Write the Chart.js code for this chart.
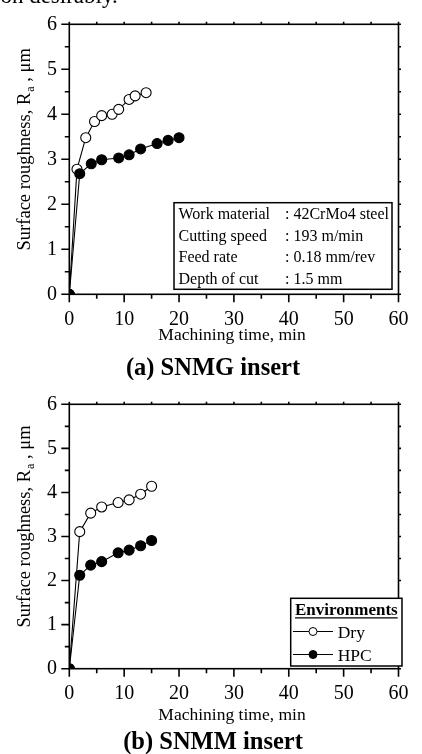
<!DOCTYPE html>
<html>
<head>
<meta charset="utf-8">
<script src="https://cdn.jsdelivr.net/npm/chart.js@4.4.1/dist/chart.umd.min.js"></script>
<style>
  body { margin: 0; background: #fff; }
  #page { position: relative; width: 422px; height: 754px; overflow: hidden; }
  #c1 { position: absolute; left: 0; top: 0; }
  #c2 { position: absolute; left: 0; top: 380px; }
  #snippet { position: absolute; left: -6px; top: -15px; font: 23px/22px "Liberation Serif", serif; white-space: nowrap; color: #000; }
</style>
</head>
<body>
<div id="page">
  <canvas id="c1" width="422" height="380"></canvas>
  <canvas id="c2" width="422" height="374"></canvas>
  <div id="snippet">ion desirably.</div>
</div>
<script>
// axis ticks
const xTicks = [0, 10, 20, 30, 40, 50, 60];
const yTicks = [0, 1, 2, 3, 4, 5, 6];

// (a) SNMG insert
const dryTimeA = [0, 1.4, 3.0, 4.6, 5.9, 7.8, 9.0, 10.9, 12.0, 14.0];
const dryRaA   = [0, 2.78, 3.48, 3.84, 3.97, 4.00, 4.11, 4.33, 4.41, 4.48];
const hpcTimeA = [0, 1.9, 4.0, 5.9, 9.0, 10.9, 13.0, 16.0, 18.0, 20.0];
const hpcRaA   = [0, 2.68, 2.90, 2.99, 3.03, 3.10, 3.23, 3.35, 3.42, 3.48];

// (b) SNMM insert
const dryTimeB = [0, 1.9, 3.9, 5.9, 8.9, 10.9, 13.0, 15.0];
const dryRaB   = [0, 3.11, 3.53, 3.67, 3.77, 3.83, 3.96, 4.14];
const hpcTimeB = [0, 1.9, 3.9, 5.9, 8.9, 10.9, 13.0, 15.0];
const hpcRaB   = [0, 2.12, 2.35, 2.43, 2.63, 2.69, 2.79, 2.91];

const infoLabels = ['Work material', 'Cutting speed', 'Feed rate', 'Depth of cut'];
const infoValues = [': 42CrMo4 steel', ': 193 m/min', ': 0.18 mm/rev', ': 1.5 mm'];

const serif = '"Liberation Serif", "Times New Roman", serif';

function series(label, xs, ys, fill, order) {
  return {
    label: label,
    data: xs.map((t, i) => ({ x: t, y: ys[i] })),
    order: order,
    showLine: true,
    borderColor: '#000',
    borderWidth: 1.1,
    pointRadius: 5,
    pointBorderWidth: 1.1,
    pointBorderColor: '#000',
    pointBackgroundColor: fill,
    tension: 0
  };
}

function drawYTitle(ctx, cx, cy) {
  ctx.save();
  ctx.translate(cx, cy);
  ctx.rotate(-Math.PI / 2);
  const main = 'Surface roughness, R', sub = 'a', tail = ' , \u03bcm';
  ctx.font = '18.5px ' + serif;
  const w1 = ctx.measureText(main).width, w3 = ctx.measureText(tail).width;
  ctx.font = '12px ' + serif;
  const w2 = ctx.measureText(sub).width + 1;
  let x = -(w1 + w2 + w3) / 2;
  ctx.textAlign = 'left';
  ctx.textBaseline = 'alphabetic';
  ctx.font = '18.5px ' + serif; ctx.fillText(main, x, 0); x += w1;
  ctx.font = '12px ' + serif; ctx.fillText(sub, x + 1, 4); x += w2;
  ctx.font = '18.5px ' + serif; ctx.fillText(tail, x, 0);
  ctx.restore();
}

const decor = {
  id: 'decor',
  afterDatasetsDraw(chart, args, o) {
    const ctx = chart.ctx, a = chart.chartArea;
    const xs = chart.scales.x, ys = chart.scales.y;
    ctx.save();
    ctx.strokeStyle = '#000';
    ctx.fillStyle = '#000';

    // frame
    ctx.lineWidth = 1.6;
    ctx.strokeRect(a.left, a.top, a.right - a.left, a.bottom - a.top);

    // major + minor ticks, outward
    ctx.beginPath();
    xTicks.forEach((v, i) => {
      const vals = [[v, true]];
      if (i < xTicks.length - 1) vals.push([(v + xTicks[i + 1]) / 2, false]);
      vals.forEach(([val, major]) => {
        const px = xs.getPixelForValue(val);
        ctx.moveTo(px, a.bottom); ctx.lineTo(px, a.bottom + (major ? 8 : 4.5));
        ctx.moveTo(px, a.top); ctx.lineTo(px, a.top - 2.5);
      });
    });
    yTicks.forEach((v, i) => {
      const vals = [[v, true]];
      if (i < yTicks.length - 1) vals.push([(v + yTicks[i + 1]) / 2, false]);
      vals.forEach(([val, major]) => {
        const py = ys.getPixelForValue(val);
        ctx.moveTo(a.left, py); ctx.lineTo(a.left - (major ? 8 : 4.5), py);
        ctx.moveTo(a.right, py); ctx.lineTo(a.right + 2.5, py);
      });
    });
    ctx.stroke();

    // axis titles
    ctx.font = '17.5px ' + serif;
    ctx.textAlign = 'center';
    ctx.textBaseline = 'alphabetic';
    ctx.fillText('Machining time, min', 232, o.xTitleBase);
    drawYTitle(ctx, 29.5, (a.top + a.bottom) / 2 - 10);

    // caption
    ctx.font = 'bold 24.5px ' + serif;
    ctx.fillText(o.caption, 213, o.captionBase);

    // parameter box
    if (o.info) {
      ctx.fillStyle = '#fff';
      ctx.fillRect(174, 202.7, 218, 86.6);
      ctx.lineWidth = 1.5;
      ctx.strokeRect(174, 202.7, 218, 86.6);
      ctx.fillStyle = '#000';
      ctx.font = '16px ' + serif;
      ctx.textAlign = 'left';
      infoLabels.forEach((t, i) => {
        const base = 219.3 + i * 21.4;
        ctx.fillText(t, 178.5, base);
        ctx.fillText(infoValues[i], 285, base);
      });
    }

    // legend box
    if (o.legend) {
      const bx = 290.7, by = 218.3, bw = 111.3, bh = 67.7;
      ctx.fillStyle = '#fff';
      ctx.fillRect(bx, by, bw, bh);
      ctx.lineWidth = 1.5;
      ctx.strokeRect(bx, by, bw, bh);
      ctx.fillStyle = '#000';
      ctx.font = 'bold 17px ' + serif;
      ctx.textAlign = 'center';
      const head = 'Environments';
      const hw = ctx.measureText(head).width;
      const hx = bx + bw / 2;
      ctx.fillText(head, hx, 235);
      ctx.lineWidth = 1.3;
      ctx.beginPath();
      ctx.moveTo(hx - hw / 2, 237.8); ctx.lineTo(hx + hw / 2, 237.8);
      ctx.stroke();
      ctx.textAlign = 'left';
      ctx.font = '17.5px ' + serif;
      chart.data.datasets.forEach((ds, i) => {
        const cy = 251.5 + i * 23;
        ctx.lineWidth = 1;
        ctx.beginPath();
        ctx.moveTo(293, cy); ctx.lineTo(333, cy);
        ctx.stroke();
        ctx.beginPath();
        ctx.arc(313, cy, 4, 0, Math.PI * 2);
        ctx.fillStyle = ds.pointBackgroundColor;
        ctx.fill();
        ctx.stroke();
        ctx.fillStyle = '#000';
        ctx.fillText(ds.label, 337.7, cy + 6.8);
      });
    }
    ctx.restore();
  }
};

function makeChart(id, sets, plotTop, xHeight, extras) {
  return new Chart(document.getElementById(id), {
    type: 'scatter',
    data: { datasets: sets },
    options: {
      responsive: false,
      animation: false,
      events: [],
      layout: { padding: { left: 0, right: 12, top: plotTop, bottom: 0 } },
      scales: {
        x: {
          type: 'linear', min: 0, max: 60,
          afterBuildTicks: s => { s.ticks = xTicks.map(v => ({ value: v })); },
          afterFit: s => { s.height = xHeight; },
          grid: { display: false, drawTicks: false },
          border: { display: false },
          ticks: { font: { family: serif, size: 20 }, color: '#000', padding: 13.5, maxRotation: 0, autoSkip: false }
        },
        y: {
          type: 'linear', min: 0, max: 6,
          afterBuildTicks: s => { s.ticks = yTicks.map(v => ({ value: v })); },
          afterFit: s => { s.width = 69.3; },
          grid: { display: false, drawTicks: false },
          border: { display: false },
          ticks: { font: { family: serif, size: 20 }, color: '#000', padding: 12.3 }
        }
      },
      plugins: { legend: { display: false }, tooltip: { enabled: false }, decor: extras }
    },
    plugins: [decor]
  });
}

// HPC (filled) sits on top of Dry, as in the original
makeChart('c1', [
  series('Dry', dryTimeA, dryRaA, '#fff', 1),
  series('HPC', hpcTimeA, hpcRaA, '#000', 0)
], 16.5, 380 - 294.3, { caption: '(a) SNMG insert', captionBase: 374.5, xTitleBase: 340, info: true });

makeChart('c2', [
  series('Dry', dryTimeB, dryRaB, '#fff', 1),
  series('HPC', hpcTimeB, hpcRaB, '#000', 0)
], 9.3, 374 - 288.7, { caption: '(b) SNMM insert', captionBase: 369, xTitleBase: 340, legend: true });
</script>
</body>
</html>
